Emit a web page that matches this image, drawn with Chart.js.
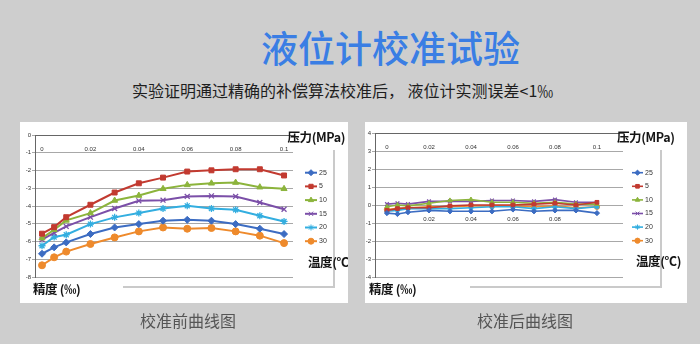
<!DOCTYPE html>
<html>
<head>
<meta charset="utf-8">
<script src="https://cdn.jsdelivr.net/npm/chart.js@4/dist/chart.umd.min.js"></script>
<style>
  html, body { margin: 0; padding: 0; }
  body { width: 700px; height: 344px; background: #cecece; position: relative; overflow: hidden;
         font-family: "Noto Sans CJK SC", sans-serif; }
  .abs { position: absolute; white-space: nowrap; line-height: 1; }
  .panel { position: absolute; background: #fff; overflow: hidden; }
  .panel canvas { position: absolute; }
  .axt { position: absolute; font-weight: 700; font-size: 12.5px; letter-spacing: -0.4px; color: #151515; white-space: nowrap; line-height: 1; }
  .rule { position: absolute; background: #cacaca; }
</style>
</head>
<body>
<div class="abs" style="left:261px;top:29px;font-size:37px;font-weight:500;color:#3a7ee4;">液位计校准试验</div>
<div class="abs" style="left:132px;top:82px;font-size:16px;color:#1e1e1e;">实验证明通过精确的补偿算法校准后， 液位计实测误差&lt;1‰</div>

<div class="panel" id="panelA" style="left:20px;top:122px;width:328px;height:181px;">
  <canvas id="before" width="700" height="344" style="left:-20px;top:-122px;"></canvas>
  <div class="rule" style="left:313px;top:28px;width:2px;height:137px;"></div>
  <div class="rule" style="left:103px;top:164px;width:212px;height:2px;"></div>
  <div class="axt" style="right:3px;top:9px;">压力(MPa)</div>
  <div class="axt" style="left:288px;top:134px;">温度(℃)</div>
  <div class="axt" style="left:13px;top:161px;">精度 (‰)</div>
</div>

<div class="panel" id="panelB" style="left:365px;top:122px;width:322px;height:181px;">
  <canvas id="after" width="700" height="344" style="left:-365px;top:-122px;"></canvas>
  <div class="rule" style="left:295px;top:28px;width:2px;height:137px;"></div>
  <div class="rule" style="left:105px;top:164px;width:192px;height:2px;"></div>
  <div class="axt" style="left:252px;top:9px;">压力(MPa)</div>
  <div class="axt" style="left:271px;top:133px;">温度(℃)</div>
  <div class="axt" style="left:4px;top:161px;">精度 (‰)</div>
</div>

<div class="abs" style="left:140px;top:312px;font-size:16px;color:#555;">校准前曲线图</div>
<div class="abs" style="left:477px;top:312px;font-size:16px;color:#555;">校准后曲线图</div>

<script>
// Pressure points (MPa) shared by every temperature series
const pressure = [0, 0.005, 0.01, 0.02, 0.03, 0.04, 0.05, 0.06, 0.07, 0.08, 0.09, 0.1];
const pressureTicks = [0, 0.02, 0.04, 0.06, 0.08, 0.1];
// Labels repeated along the zero line of the calibrated chart
const zeroLineTicks = [0.02, 0.04, 0.06, 0.08];
// Temperature series names (°C)
const temps = ['25', '5', '10', '15', '20', '30'];

// Accuracy (‰) before calibration
const before25 = [-6.69, -6.33, -6.05, -5.58, -5.21, -5.02, -4.83, -4.78, -4.83, -5.02, -5.28, -5.58];
const before5  = [-5.56, -5.19, -4.63, -3.93, -3.24, -2.72, -2.40, -2.06, -1.99, -1.93, -1.93, -2.28];
const before10 = [-5.81, -5.34, -4.81, -4.40, -3.69, -3.41, -3.03, -2.81, -2.72, -2.68, -2.94, -3.03];
const before15 = [-5.90, -5.52, -5.15, -4.63, -4.14, -3.71, -3.67, -3.46, -3.43, -3.46, -3.80, -4.18];
const before20 = [-6.24, -5.75, -5.62, -5.02, -4.64, -4.40, -4.14, -3.99, -4.14, -4.21, -4.55, -4.87];
const before30 = [-7.34, -6.89, -6.57, -6.14, -5.77, -5.43, -5.21, -5.28, -5.24, -5.43, -5.67, -6.09];

// Accuracy (‰) after calibration
const after25 = [-0.45, -0.50, -0.40, -0.30, -0.35, -0.35, -0.35, -0.25, -0.35, -0.30, -0.30, -0.45];
const after5  = [-0.30, -0.20, -0.15, -0.15, -0.05, 0.00, 0.00, 0.00, 0.05, 0.10, 0.00, 0.15];
const after10 = [-0.10, 0.00, -0.05, 0.10, 0.25, 0.30, 0.15, 0.15, 0.10, 0.15, 0.05, 0.05];
const after15 = [0.05, 0.10, 0.05, 0.20, 0.20, 0.20, 0.25, 0.25, 0.20, 0.30, 0.15, 0.15];
const after20 = [-0.35, -0.30, -0.20, -0.20, -0.20, -0.15, -0.10, -0.10, -0.20, -0.10, -0.20, -0.10];
const after30 = [-0.25, -0.20, -0.15, -0.10, -0.10, -0.05, -0.05, -0.05, -0.10, -0.05, -0.15, -0.10];

const seriesColors = ['#3c6cc2', '#c23a30', '#8cb43c', '#7b4fa8', '#33aee0', '#ee8a2c'];
const seriesMarkers = ['rectRot', 'rect', 'triangle', 'crossRot', 'star', 'circle'];

// Small key drawn to the right of the plot: line sample, marker and name
const sideKey = {
  id: 'sideKey',
  afterDatasetsDraw(chart, args, o) {
    const ctx = chart.ctx;
    chart.data.datasets.forEach((ds, i) => {
      const y = o.y + i * o.step;
      ctx.save();
      ctx.strokeStyle = ds.borderColor;
      ctx.lineWidth = o.lineWidth;
      ctx.beginPath();
      ctx.moveTo(o.x, y);
      ctx.lineTo(o.x + o.len, y);
      ctx.stroke();
      ctx.fillStyle = ds.backgroundColor;
      ctx.lineWidth = 1;
      Chart.helpers.drawPoint(ctx, { pointStyle: ds.pointStyle, radius: o.radius, rotation: 0, borderWidth: 1 },
        o.x + o.len / 2, y);
      ctx.fillStyle = '#333';
      ctx.font = '7px "Liberation Sans", Arial, sans-serif';
      ctx.textBaseline = 'middle';
      ctx.textAlign = 'left';
      ctx.fillText(ds.label, o.x + o.len + 2, y);
      ctx.restore();
    });
  }
};

function makeDatasets(valueLists, lineWidth, radius) {
  return valueLists.map((vals, i) => ({
    label: temps[i],
    data: pressure.map((p, j) => ({ x: p, y: vals[j] })),
    borderColor: seriesColors[i],
    backgroundColor: seriesColors[i],
    pointBackgroundColor: seriesColors[i],
    pointBorderColor: seriesColors[i],
    pointStyle: seriesMarkers[i],
    pointRadius: radius,
    pointBorderWidth: seriesMarkers[i] === 'crossRot' || seriesMarkers[i] === 'star' ? 1.3 : 1,
    borderWidth: lineWidth,
    tension: 0,
    fill: false
  }));
}

const tickFont = { family: '"Liberation Sans", Arial, sans-serif', size: 6 };
const tickLabel = v => String(+Number(v).toFixed(2));

function pressureAxis(min, max, atY, showBorder, tickValues) {
  return {
    type: 'linear',
    position: { y: atY },
    min: min,
    max: max,
    afterBuildTicks: s => { s.ticks = tickValues.map(v => ({ value: v })); },
    grid: { display: false },
    border: { display: showBorder, color: '#666', width: 1 },
    ticks: { font: tickFont, color: '#333', padding: 3, maxRotation: 0, autoSkip: false, callback: tickLabel }
  };
}

function accuracyAxis(min, max) {
  return {
    type: 'linear',
    position: 'left',
    min: min,
    max: max,
    afterFit: s => { s.width = 16; },
    grid: { color: '#a8a8a8', lineWidth: 1, tickLength: 3 },
    border: { color: '#666', width: 1 },
    ticks: { stepSize: 1, font: tickFont, color: '#333', padding: 1 }
  };
}

Chart.register(sideKey);

new Chart(document.getElementById('before'), {
  type: 'line',
  data: { datasets: makeDatasets([before25, before5, before10, before15, before20, before30], 2, 3.5) },
  options: {
    responsive: false,
    animation: false,
    devicePixelRatio: 1,
    layout: { padding: { left: 19, right: 407, top: 135, bottom: 67 } },
    scales: {
      x: pressureAxis(-0.0029, 0.1037, 0, true, pressureTicks),
      y: accuracyAxis(-8, 0)
    },
    plugins: {
      legend: { display: false },
      tooltip: { enabled: false },
      sideKey: { x: 305, y: 172.7, step: 13.7, len: 12, radius: 3, lineWidth: 2 }
    }
  }
});

new Chart(document.getElementById('after'), {
  type: 'line',
  data: { datasets: makeDatasets([after25, after5, after10, after15, after20, after30], 1.6, 2.6) },
  options: {
    responsive: false,
    animation: false,
    devicePixelRatio: 1,
    layout: { padding: { left: 359, right: 77, top: 133, bottom: 67 } },
    scales: {
      x: pressureAxis(-0.0057, 0.1124, 4, true, pressureTicks),
      x2: pressureAxis(-0.0057, 0.1124, 0, false, zeroLineTicks),
      y: accuracyAxis(-4, 4)
    },
    plugins: {
      legend: { display: false },
      tooltip: { enabled: false },
      sideKey: { x: 632, y: 172.7, step: 13.6, len: 11, radius: 2.6, lineWidth: 1.6 }
    }
  }
});
</script>
</body>
</html>
